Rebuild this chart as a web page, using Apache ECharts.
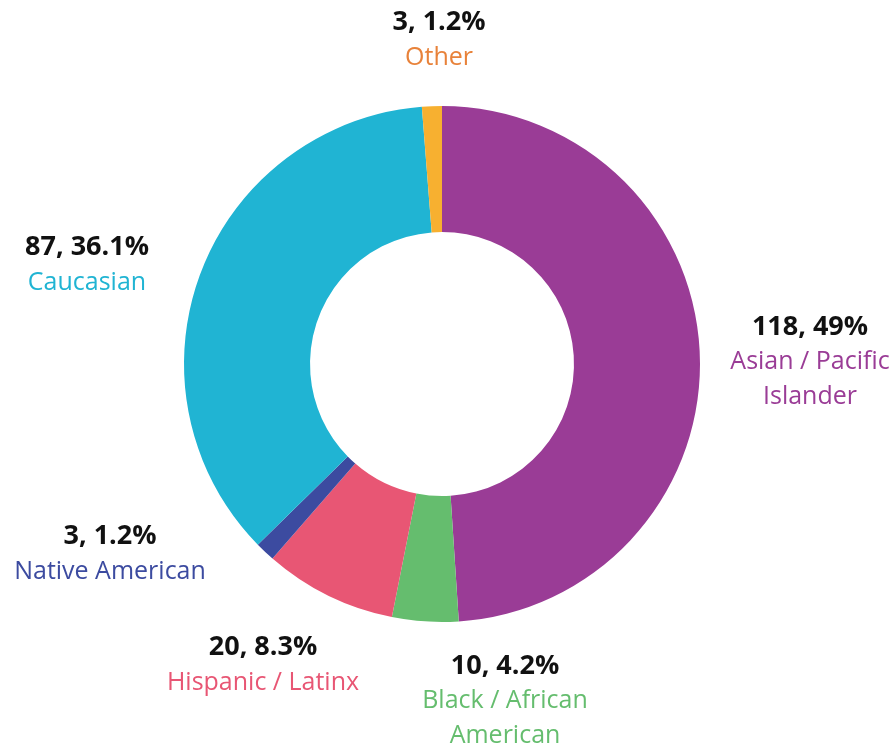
<!DOCTYPE html>
<html>
<head>
<meta charset="utf-8">
<script src="https://cdn.jsdelivr.net/npm/echarts@6/dist/echarts.min.js"></script>
<style>
html, body { margin: 0; padding: 0; background: #fff; }
#main { width: 895px; height: 747px; }
</style>
</head>
<body>
<div id="main"></div>
<script>
// data
var categories = ['Asian / Pacific\nIslander', 'Black / African\nAmerican', 'Hispanic / Latinx', 'Native American', 'Caucasian', 'Other'];
var counts = [118, 10, 20, 3, 87, 3];
var percents = ['49%', '4.2%', '8.3%', '1.2%', '36.1%', '1.2%'];

var sliceColors = ['#9a3c96', '#65bd6e', '#e85674', '#3c4ba0', '#20b4d3', '#f7b030'];
var textColors = ['#9a3c96', '#65bd6e', '#e85674', '#3c4ba0', '#20b4d3', '#e8823a'];
// label centres (px)
var labelPos = [[810, 362], [505, 701], [263, 665], [110, 554], [87, 265], [439, 40]];

var chart = echarts.init(document.getElementById('main'));

var pieData = [];
for (var i = 0; i < categories.length; i++) {
	pieData.push({
		name: categories[i],
		value: counts[i],
		itemStyle: { color: sliceColors[i] },
		label: {
			formatter: '{a|' + counts[i] + ', ' + percents[i] + '}\n' +
				categories[i].split('\n').map(function(s){ return '{b|' + s + '}'; }).join('\n'),
			rich: {
				a: { fontFamily: 'Open Sans', fontWeight: 'bold', fontSize: 27, color: '#111', lineHeight: 35, align: 'center' },
				b: { fontFamily: 'Open Sans', fontSize: 25, color: textColors[i], lineHeight: 35, align: 'center' }
			}
		}
	});
}

chart.setOption({
	animation: false,
	series: [{
		type: 'pie',
		center: [442, 364],
		radius: [132, 258],
		startAngle: 90,
		clockwise: true,
		itemStyle: { borderWidth: 0 },
		label: { show: true, position: 'outside', overflow: 'none', width: 300 },
		labelLine: { show: false },
		labelLayout: function(params) {
			var p = labelPos[params.dataIndex];
			return { x: p[0], y: p[1], align: 'center', verticalAlign: 'middle' };
		},
		data: pieData
	}]
});
</script>
</body>
</html>
